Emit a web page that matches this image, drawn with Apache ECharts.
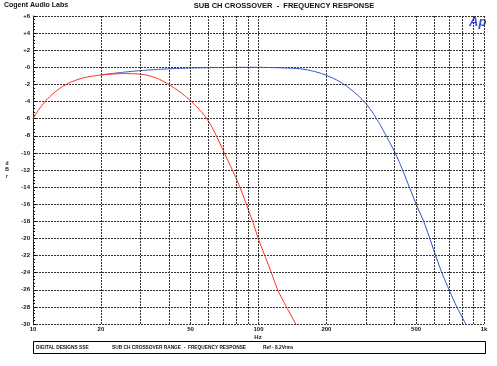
<!DOCTYPE html>
<html>
<head>
<meta charset="utf-8">
<script src="https://cdn.jsdelivr.net/npm/echarts@6/dist/echarts.min.js"></script>
<style>html,body{margin:0;padding:0;background:#fff}#c{width:497px;height:366px}</style>
</head>
<body>
<div id="c"></div>
<script>
// Frequency response data (Hz, dBr)
const redFreq = [10, 10.6, 11.3, 12, 12.7, 13.5, 14.5, 15.5, 16.5, 17.7, 19, 20, 21.5, 23, 24.5, 26, 28, 30, 32, 34, 36, 38, 40, 42.5, 45, 47.5, 50, 52.5, 55, 57.5, 60, 62.5, 65, 67.5, 70, 75, 80, 85, 90, 95, 100, 107, 114, 122, 133, 147];
const redDb   = [-6.0, -4.95, -4.0, -3.3, -2.75, -2.25, -1.8, -1.5, -1.27, -1.1, -0.97, -0.9, -0.82, -0.77, -0.74, -0.73, -0.75, -0.8, -0.92, -1.1, -1.35, -1.65, -2.0, -2.45, -2.9, -3.4, -3.9, -4.45, -5.0, -5.6, -6.3, -7.1, -8.0, -8.9, -9.8, -11.5, -13.1, -14.8, -16.6, -18.3, -20.1, -22.1, -24.0, -26.1, -28.0, -30.1];
const blueFreq = [20, 22, 25, 28, 32, 36, 40, 45, 50, 60, 70, 80, 90, 100, 110, 120, 130, 140, 153, 165, 175, 188, 200, 212, 225, 236, 246, 260, 275, 288, 300, 323, 346, 370, 400, 420, 440, 470, 500, 540, 575, 610, 650, 700, 757, 830];
const blueDb   = [-0.9, -0.75, -0.58, -0.45, -0.33, -0.24, -0.17, -0.12, -0.08, -0.04, -0.02, 0.0, 0.0, 0.0, -0.02, -0.04, -0.07, -0.1, -0.17, -0.3, -0.45, -0.68, -0.94, -1.22, -1.55, -1.88, -2.2, -2.7, -3.25, -3.75, -4.25, -5.4, -6.7, -8.1, -9.8, -11.0, -12.3, -14.2, -16.0, -18.0, -20.0, -22.0, -24.0, -26.0, -28.0, -30.0];
const xGridFreqs = [10, 20, 30, 40, 50, 60, 70, 80, 90, 100, 200, 300, 400, 500, 600, 700, 800, 900, 1000];
const xTickValues = [10, 20, 50, 100, 200, 500, 1000];
const xTickLabels = ['10', '20', '50', '100', '200', '500', '1k'];
const yMin = -30, yMax = 6, yStep = 2;

const FONT = 'Liberation Sans, Arial, sans-serif';
const pair = (fs, vs) => fs.map((f, i) => [f, vs[i]]);

const markData = xGridFreqs.map(f => {
  const idx = xTickValues.indexOf(f);
  return {
    xAxis: f,
    label: idx >= 0 ? { show: true, formatter: xTickLabels[idx] } : { show: false }
  };
});

const chart = echarts.init(document.getElementById('c'), null, { renderer: 'canvas' });
chart.setOption({
  animation: false,
  backgroundColor: '#fff',
  grid: { left: 33, right: 13, top: 16, bottom: 42, containLabel: false },
  xAxis: {
    type: 'log', logBase: 10, min: 10, max: 1000,
    axisLine: { show: false },
    axisTick: { show: false },
    axisLabel: { show: false },
    splitLine: { show: false }
  },
  yAxis: {
    type: 'value', min: yMin, max: yMax, interval: yStep,
    axisLine: { show: true, lineStyle: { color: '#000', width: 1 } },
    axisTick: { show: true, inside: true, length: 3, lineStyle: { color: '#000' } },
    minorTick: { show: true, splitNumber: 5, length: 2, lineStyle: { color: '#000' } },
    axisLabel: {
      fontSize: 6, fontFamily: FONT, fontWeight: 'bold', color: '#111', margin: 3,
      formatter: v => v > 0 ? '+' + v : (v === 0 ? '-0' : String(v))
    },
    splitLine: { show: true, lineStyle: { color: '#333', width: 1, type: [2, 1] } }
  },
  series: [
    {
      type: 'line', name: 'grid', data: [], silent: true,
      markLine: {
        silent: true, symbol: 'none', animation: false,
        lineStyle: { color: '#333', width: 1, type: [2, 1] },
        label: { position: 'start', distance: 2, fontSize: 6, fontFamily: FONT, fontWeight: 'bold', color: '#111' },
        emphasis: { disabled: true },
        data: markData
      }
    },
    {
      type: 'line', name: 'blue', data: pair(blueFreq, blueDb), smooth: 0.15,
      symbol: 'none', lineStyle: { color: '#2f4fc4', width: 1 }, z: 3
    },
    {
      type: 'line', name: 'red', data: pair(redFreq, redDb), smooth: 0.15,
      symbol: 'none', lineStyle: { color: '#ff2a1a', width: 1 }, z: 4
    }
  ],
  graphic: [
    { type: 'text', left: 4, top: 2, style: { text: 'Cogent Audio Labs', font: 'bold 7px ' + FONT, fill: '#111' } },
    { type: 'text', x: 284, y: 6, style: { text: 'SUB CH CROSSOVER  -  FREQUENCY RESPONSE', font: 'bold 7.5px ' + FONT, fill: '#111', align: 'center', verticalAlign: 'middle' } },
    { type: 'text', x: 469, y: 16, style: { text: 'Ap', font: 'italic bold 13px ' + FONT, fill: '#3a4ed0' } },
    { type: 'text', x: 258, y: 337, style: { text: 'Hz', font: 'bold 6px ' + FONT, fill: '#111', align: 'center', verticalAlign: 'middle' } },
    { type: 'text', x: 7, y: 170, style: { text: 'd\nB\nr', font: 'bold 5px ' + FONT, fill: '#111', align: 'center', verticalAlign: 'middle', lineHeight: 6.5 } },
    { type: 'rect', shape: { x: 33.5, y: 341.5, width: 452, height: 12 }, style: { fill: 'none', stroke: '#000', lineWidth: 1 } },
    { type: 'text', x: 36, y: 347.5, style: { text: 'DIGITAL DESIGNS SSE', font: 'bold 4.8px ' + FONT, fill: '#111', verticalAlign: 'middle' } },
    { type: 'text', x: 112, y: 347.5, style: { text: 'SUB CH CROSSOVER RANGE  -  FREQUENCY RESPONSE', font: 'bold 4.8px ' + FONT, fill: '#111', verticalAlign: 'middle' } },
    { type: 'text', x: 263, y: 347.5, style: { text: 'Ref - 8.2Vrms', font: 'bold 4.8px ' + FONT, fill: '#111', verticalAlign: 'middle' } }
  ]
});
</script>
</body>
</html>
